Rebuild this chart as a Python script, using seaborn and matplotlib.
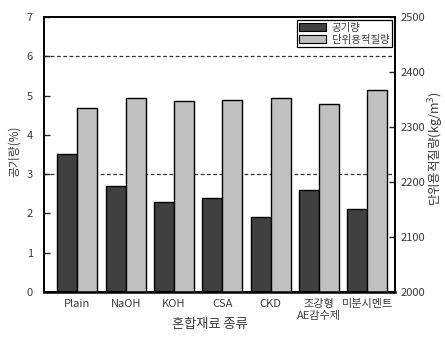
import matplotlib
matplotlib.use("Agg")
import matplotlib.pyplot as plt
import seaborn as sns
import pandas as pd
from matplotlib.patches import Patch

categories = ["Plain", "NaOH", "KOH", "CSA", "CKD", "조강형\nAE감수제", "미분시멘트"]
air_content = [3.5, 2.7, 2.3, 2.4, 1.9, 2.6, 2.1]
unit_mass = [2335, 2353, 2347, 2349, 2353, 2342, 2367]
series_names = ["공기량", "단위용적질량"]
left_ticks = [0, 1, 2, 3, 4, 5, 6, 7]
right_ticks = [2000, 2100, 2200, 2300, 2400, 2500]
ref_lines = [6, 3]

sns.set_theme(style="white")
plt.rcParams["font.family"] = ["Noto Sans CJK KR", "DejaVu Sans"]

colors = {"공기량": "#404040", "단위용적질량": "#c0c0c0"}
text_color = "#3a3a3a"

df_air = pd.DataFrame({"cat": categories, "val": air_content, "series": series_names[0]})
df_mass = pd.DataFrame({"cat": categories, "val": unit_mass, "series": series_names[1]})

fig = plt.figure(figsize=(4.45, 3.41), dpi=100)
ax = fig.add_axes([0.099, 0.144, 0.789, 0.806])
ax2 = ax.twinx()

sns.barplot(data=df_air, x="cat", y="val", hue="series", hue_order=series_names,
            order=categories, palette=colors, width=0.83, dodge=True,
            edgecolor="black", linewidth=1.0, ax=ax, legend=False)
sns.barplot(data=df_mass, x="cat", y="val", hue="series", hue_order=series_names,
            order=categories, palette=colors, width=0.83, dodge=True,
            edgecolor="black", linewidth=1.0, ax=ax2, legend=False)

for v in ref_lines:
    ax.axhline(v, color="#333333", linestyle=(0, (3, 2)), linewidth=0.9, zorder=0)

ax.set_xlim(-0.69, 6.58)
ax.set_ylim(0, 7)
ax2.set_ylim(2000, 2500)
ax.set_yticks(left_ticks)
ax2.set_yticks(right_ticks)

ax.set_xlabel("혼합재료 종류", fontsize=9.5, color=text_color)
ax.xaxis.set_label_coords(0.473, -0.095)
ax.set_ylabel("공기량(%)", fontsize=8.5, color=text_color)
ax.yaxis.set_label_coords(-0.065, 0.51)
ax2.set_ylabel("단위용적질량(kg/m$^3$)", fontsize=9, color=text_color)
ax2.yaxis.set_label_coords(1.088, 0.52)

ax.tick_params(axis="y", direction="in", length=4, width=1, labelsize=8,
               labelcolor=text_color, pad=8, left=True)
ax2.tick_params(axis="y", direction="in", length=4, width=1, labelsize=8,
                labelcolor=text_color, pad=4, right=True)
ax.tick_params(axis="x", length=0, labelsize=8, labelcolor=text_color, pad=5)

for a in (ax, ax2):
    for s in a.spines.values():
        s.set_color("black")
        s.set_linewidth(1.2)
ax2.spines["bottom"].set_linewidth(1.8)

handles = [Patch(facecolor=colors[n], edgecolor="black", linewidth=0.8, label=n) for n in series_names]
leg = ax2.legend(handles=handles, loc="upper right", fontsize=7.5, frameon=True,
                 fancybox=False, edgecolor="black", framealpha=1,
                 borderpad=0.25, handlelength=2.6, handleheight=0.8,
                 handletextpad=0.5, labelspacing=0.2, borderaxespad=0.3)
leg.get_frame().set_linewidth(0.9)
for t in leg.get_texts():
    t.set_color(text_color)

fig.savefig("out.png", dpi=100)
